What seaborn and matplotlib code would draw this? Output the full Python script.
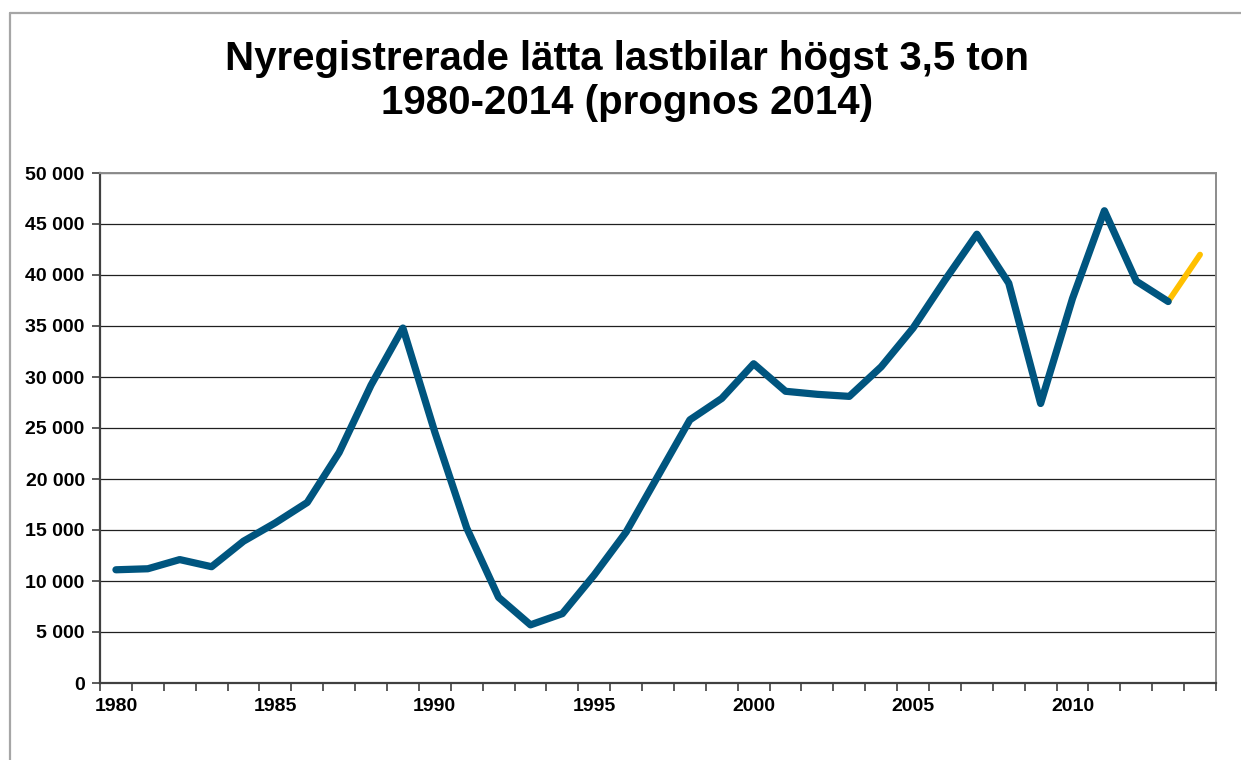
import numpy as np
import matplotlib
matplotlib.use("Agg")
import matplotlib.pyplot as plt
import matplotlib.ticker as mticker
import seaborn as sns
import pandas as pd

# Data
years = list(range(1980, 2014))
registrations = [11100, 11200, 12100, 11400, 13900, 15700, 17700, 22600, 29200, 34800,
                 24600, 15200, 8400, 5700, 6800, 10600, 14800, 20300, 25800, 27900,
                 31300, 28600, 28300, 28100, 31000, 34800, 39500, 44000, 39200, 27400,
                 37700, 46300, 39400, 37400]
forecast_years = [2013, 2014]
forecast_values = [37400, 42000]

title = "Nyregistrerade lätta lastbilar högst 3,5 ton\n1980-2014 (prognos 2014)"
label_years = [1980, 1985, 1990, 1995, 2000, 2005, 2010]
y_ticks = list(range(0, 50001, 5000))

sns.set_theme(style="white")
plt.rcParams['font.family'] = ['Liberation Sans', 'DejaVu Sans']
plt.rcParams['text.color'] = 'black'
plt.rcParams['xtick.color'] = 'black'
plt.rcParams['ytick.color'] = 'black'

df = pd.DataFrame({"year": years, "value": registrations})
df_fc = pd.DataFrame({"year": forecast_years, "value": forecast_values})

fig = plt.figure(figsize=(12.41, 7.60), dpi=100)
ax = fig.add_axes([100 / 1241, 77 / 760, 1116 / 1241, 510 / 760])

# outer chart border (cut off at right and bottom)
fig.add_artist(plt.Line2D([10 / 1241, 1.0], [1 - 13 / 760, 1 - 13 / 760],
                          color="#a6a6a6", lw=1.6, transform=fig.transFigure))
fig.add_artist(plt.Line2D([10 / 1241, 10 / 1241], [0.0, 1 - 13 / 760],
                          color="#a6a6a6", lw=1.6, transform=fig.transFigure))

sns.lineplot(data=df, x="year", y="value", ax=ax, color="#00557f", lw=5.2,
             solid_joinstyle="round", solid_capstyle="round", zorder=3)
sns.lineplot(data=df_fc, x="year", y="value", ax=ax, color="#ffc000", lw=4.2,
             solid_capstyle="round", zorder=2)

ax.set_xlim(1979.5, 2014.5)
ax.set_ylim(0, 50000)
ax.set_xlabel("")
ax.set_ylabel("")

ax.set_yticks(y_ticks)
ax.yaxis.set_major_formatter(mticker.FuncFormatter(lambda v, p: f"{int(v):,}".replace(",", " ")))
ax.grid(axis="y", color="#202020", lw=0.9)
ax.set_axisbelow(True)

ax.set_xticks(label_years)
ax.set_xticklabels([str(y) for y in label_years])
ax.set_xticks(np.arange(1979.5, 2015, 1.0), minor=True)
ax.tick_params(axis="x", which="major", length=0, pad=11, labelsize=14, labelcolor="black")
ax.tick_params(axis="x", which="minor", length=6, width=1.2, color="#404040", direction="out", bottom=True)
ax.tick_params(axis="y", which="major", length=6, width=1.2, color="#404040", direction="out",
               left=True, labelsize=14, pad=5, labelcolor="black")
for lab in ax.get_xticklabels() + ax.get_yticklabels():
    lab.set_fontweight("bold")

for side in ["left", "bottom"]:
    ax.spines[side].set_color("#404040")
    ax.spines[side].set_linewidth(1.6)
for side in ["right", "top"]:
    ax.spines[side].set_color("#8c8c8c")
    ax.spines[side].set_linewidth(1.4)
    ax.spines[side].set_visible(True)

fig.text(627 / 1241, 1 - 81 / 760, title, ha="center", va="center", color="black",
         fontsize=29, fontweight="bold", linespacing=1.2)

fig.savefig("out.png", dpi=100, facecolor="white")
